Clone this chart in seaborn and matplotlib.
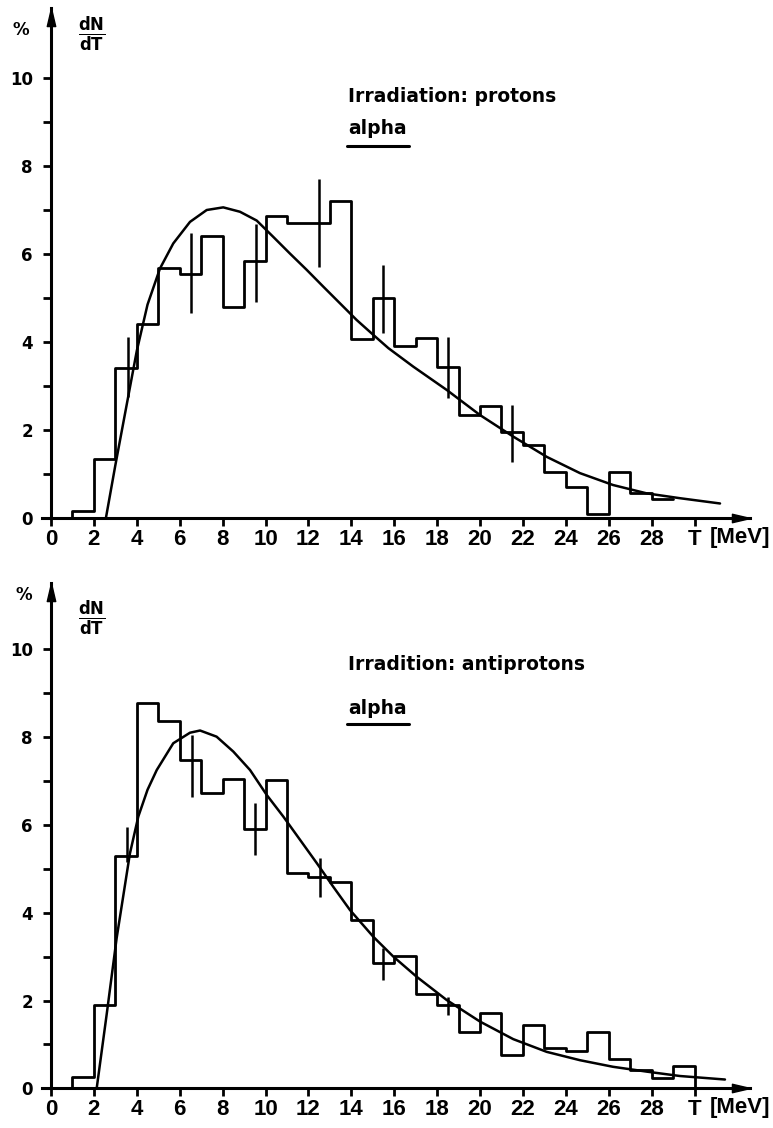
import numpy as np
import pandas as pd
import seaborn as sns
import matplotlib.pyplot as plt
from matplotlib.path import Path
from matplotlib.ticker import FixedLocator

sns.set_theme(style="white")
plt.rcParams['font.family'] = ['DejaVu Sans']
plt.rcParams['font.weight'] = 'bold'
plt.rcParams['text.color'] = 'black'
plt.rcParams['xtick.color'] = 'black'
plt.rcParams['ytick.color'] = 'black'

# ---------------- data ----------------
# top panel : irradiation with protons, bins 1 MeV wide (first bin empty)
top_edges = list(range(0, 30))
top_vals = [0.0, 0.15, 1.35, 3.4, 4.42, 5.68, 5.55, 6.42, 4.8, 5.83, 6.86, 6.7, 6.7,
            7.2, 4.07, 5.0, 3.9, 4.08, 3.44, 2.34, 2.55, 1.96, 1.66, 1.05, 0.71,
            0.1, 1.04, 0.56, 0.43]
top_curve_x = [2.56, 3.0, 3.5, 4.0, 4.5, 5.08, 5.7, 6.48, 7.26, 8.03, 8.81, 9.59,
               10.36, 11.14, 11.92, 12.69, 13.47, 14.25, 15.03, 15.73, 16.89,
               18.45, 20.0, 21.55, 23.11, 24.66, 26.2, 27.77, 29.32, 31.19]
top_curve_y = [0.0, 1.2, 2.5, 3.8, 4.85, 5.67, 6.24, 6.73, 7.0, 7.06, 6.96, 6.76,
               6.39, 6.01, 5.64, 5.26, 4.88, 4.5, 4.16, 3.86, 3.44,
               2.91, 2.34, 1.85, 1.39, 1.02, 0.75, 0.56, 0.45, 0.33]
top_err_x = [3.6, 6.55, 9.55, 12.5, 15.5, 18.5, 21.5]
top_err_lo = [2.75, 4.65, 4.9, 5.7, 4.2, 2.72, 1.28]
top_err_hi = [4.12, 6.47, 6.68, 7.7, 5.75, 4.12, 2.57]

# bottom panel : irradiation with antiprotons, bins 1 MeV wide (first/last empty)
bot_edges = list(range(0, 32))
bot_vals = [0.0, 0.26, 1.9, 5.3, 8.78, 8.37, 7.48, 6.72, 7.05, 5.9, 7.03, 4.91, 4.82,
            4.71, 3.84, 2.85, 3.02, 2.15, 1.9, 1.29, 1.72, 0.76, 1.44, 0.91, 0.86,
            1.29, 0.67, 0.42, 0.23, 0.51, 0.0]
bot_curve_x = [2.13, 2.6, 3.06, 3.68, 4.07, 4.5, 4.93, 5.7, 6.48, 6.95, 7.72, 8.5,
               9.28, 10.06, 10.83, 11.61, 12.39, 13.16, 13.94, 15.03, 15.96,
               17.05, 18.45, 20.0, 21.55, 23.11, 24.66, 26.2, 27.77, 29.32, 31.42]
bot_curve_y = [0.0, 1.7, 3.42, 5.35, 6.19, 6.8, 7.25, 7.86, 8.1, 8.15, 8.01, 7.67,
               7.25, 6.68, 6.19, 5.66, 5.13, 4.59, 4.06, 3.45, 3.0,
               2.54, 2.01, 1.52, 1.12, 0.83, 0.64, 0.49, 0.38, 0.28, 0.2]
bot_err_x = [3.56, 6.56, 9.5, 12.52, 15.5, 18.52]
bot_err_lo = [5.15, 6.64, 5.31, 4.36, 2.47, 1.67]
bot_err_hi = [5.95, 8.05, 6.49, 5.24, 3.2, 2.08]

x_ticks = list(range(0, 31, 2))
x_labels = [str(t) for t in range(0, 29, 2)] + ["T"]
y_major = [0, 2, 4, 6, 8, 10]
y_minor = [1, 3, 5, 7, 9]

titles = ["Irradiation: protons", "Irradition: antiprotons"]
particle = "alpha"

# ---------------- figure ----------------
W, H = 773, 1128
fig = plt.figure(figsize=(W / 100, H / 100), dpi=100)
fig.patch.set_facecolor("white")

XL = (-0.4, 32.6)
panels = [
    dict(py0=518.0, ppu=44.0, ytop=11.6, edges=top_edges, vals=top_vals,
         cx=top_curve_x, cy=top_curve_y, ex=top_err_x, elo=top_err_lo, ehi=top_err_hi,
         title=titles[0], ty=9.57, ay=8.85, ugap=8, pct=(-1.4, 11.1), frac=(1.9, 11.0)),
    dict(py0=1088.3, ppu=43.9, ytop=11.5, edges=bot_edges, vals=bot_vals,
         cx=bot_curve_x, cy=bot_curve_y, ex=bot_err_x, elo=bot_err_lo, ehi=bot_err_hi,
         title=titles[1], ty=9.66, ay=8.66, ugap=6, pct=(-1.28, 11.24), frac=(1.9, 10.7)),
]

pxu = 21.45
x0px = 51.0
arrow_right = Path([(0, 0), (-3.2, 0.75), (-3.2, -0.75), (0, 0)],
                   [Path.MOVETO, Path.LINETO, Path.LINETO, Path.CLOSEPOLY])
arrow_up = Path([(0, 0), (0.75, -3.2), (-0.75, -3.2), (0, 0)],
                [Path.MOVETO, Path.LINETO, Path.LINETO, Path.CLOSEPOLY])

tickfont = ['Liberation Sans', 'DejaVu Sans']

for p in panels:
    left_px = x0px + XL[0] * pxu
    right_px = x0px + XL[1] * pxu
    top_px = p["py0"] - p["ytop"] * p["ppu"]
    ax = fig.add_axes([left_px / W, 1 - p["py0"] / H,
                       (right_px - left_px) / W, (p["py0"] - top_px) / H])
    ax.set_facecolor("white")

    edges = p["edges"]
    centers = [(a + b) / 2 for a, b in zip(edges[:-1], edges[1:])]
    df = pd.DataFrame({"T": centers, "w": p["vals"]})
    sns.histplot(data=df, x="T", weights="w", bins=edges, element="step",
                 fill=False, color="black", linewidth=2.0, ax=ax)

    cdf = pd.DataFrame({"T": p["cx"], "f": p["cy"]})
    sns.lineplot(data=cdf, x="T", y="f", color="black", linewidth=1.8,
                 estimator=None, sort=False, ax=ax)

    ax.vlines(p["ex"], p["elo"], p["ehi"], color="black", linewidth=1.8)

    ax.set_xlim(*XL)
    ax.set_ylim(0, p["ytop"])
    ax.set_xlabel("")
    ax.set_ylabel("")

    for s in ["top", "right"]:
        ax.spines[s].set_visible(False)
    ax.spines["left"].set_position(("data", 0))
    for s in ["left", "bottom"]:
        ax.spines[s].set_color("black")
        ax.spines[s].set_linewidth(2.2)

    ax.plot([1], [0], marker=arrow_right, markersize=26, color="black",
            transform=ax.get_yaxis_transform(), clip_on=False)
    ax.plot([0], [1], marker=arrow_up, markersize=26, color="black",
            transform=ax.get_xaxis_transform(), clip_on=False)

    ax.set_xticks(x_ticks)
    ax.set_xticklabels(x_labels, fontfamily=tickfont, fontweight="bold", fontsize=16)
    ax.set_yticks(y_major)
    ax.set_yticklabels([str(v) for v in y_major], fontweight="bold", fontsize=12)
    ax.yaxis.set_minor_locator(FixedLocator(y_minor))
    ax.tick_params(axis="x", which="major", direction="out", length=6, width=2,
                   pad=2, colors="black", bottom=True)
    ax.tick_params(axis="y", which="both", direction="out", length=6, width=2,
                   pad=7, colors="black", left=True)
    ax.grid(False)

    ax.text(30.7, -0.2, "[MeV]", fontfamily=tickfont, fontweight="bold",
            fontsize=16, ha="left", va="top", clip_on=False, color="black")

    ax.text(13.85, p["ty"], p["title"], fontsize=13.5, fontweight="bold",
            ha="left", va="center", color="black")
    atxt = ax.text(13.85, p["ay"], particle, fontsize=13.5, fontweight="bold",
                   ha="left", va="center", color="black")

    ax.text(p["pct"][0], p["pct"][1], "%", fontsize=12, fontweight="bold",
            ha="center", va="center", clip_on=False, color="black")
    ax.text(p["frac"][0], p["frac"][1], r"$\frac{\mathbf{dN}}{\mathbf{dT}}$",
            fontsize=17, ha="center", va="center", color="black")

    fig.canvas.draw()
    bb = atxt.get_window_extent()
    inv = ax.transData.inverted()
    (ux0, uy0) = inv.transform((bb.x0 - 1, bb.y0 - p["ugap"]))
    (ux1, _) = inv.transform((bb.x1 + 2, bb.y0 - p["ugap"]))
    ax.plot([ux0, ux1], [uy0, uy0], color="black", linewidth=2.2)

fig.savefig("out.png", dpi=100, facecolor="white")
